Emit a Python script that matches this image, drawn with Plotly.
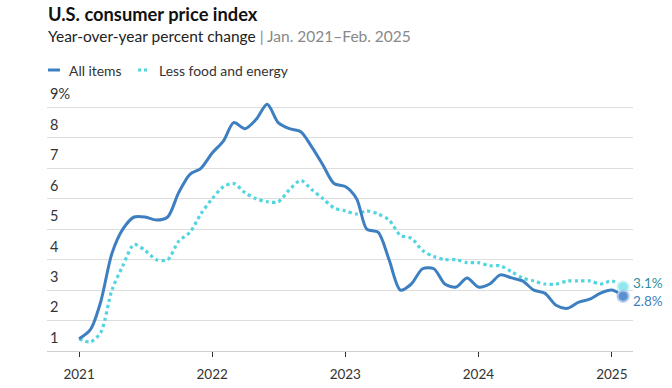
import plotly.graph_objects as go
import pandas as pd

months = pd.date_range("2021-01-01", "2025-02-01", freq="MS").strftime("%Y-%m-%d").tolist()

all_items = [
    1.4, 1.7, 2.6, 4.2, 5.0, 5.4, 5.4, 5.3, 5.4, 6.2, 6.8, 7.0,
    7.5, 7.9, 8.5, 8.3, 8.6, 9.1, 8.5, 8.3, 8.2, 7.7, 7.1, 6.5,
    6.4, 6.0, 5.0, 4.9, 4.0, 3.0, 3.2, 3.7, 3.7, 3.2, 3.1, 3.4,
    3.1, 3.2, 3.5, 3.4, 3.3, 3.0, 2.9, 2.5, 2.4, 2.6, 2.7, 2.9,
    3.0, 2.8,
]
less_food_energy = [
    1.4, 1.3, 1.6, 3.0, 3.8, 4.5, 4.3, 4.0, 4.0, 4.6, 4.9, 5.5,
    6.0, 6.4, 6.5, 6.2, 6.0, 5.9, 5.9, 6.3, 6.6, 6.3, 6.0, 5.7,
    5.6, 5.5, 5.6, 5.5, 5.3, 4.8, 4.7, 4.3, 4.1, 4.0, 4.0, 3.9,
    3.9, 3.8, 3.8, 3.6, 3.4, 3.3, 3.2, 3.2, 3.3, 3.3, 3.3, 3.2,
    3.3, 3.1,
]
series_names = ["All items", "Less food and energy"]
y_ticks = [1, 2, 3, 4, 5, 6, 7, 8, 9]
y_tick_text = ["1", "2", "3", "4", "5", "6", "7", "8", "9%"]
x_ticks = ["2021-01-01", "2022-01-01", "2023-01-01", "2024-01-01", "2025-01-01"]
x_tick_text = ["2021", "2022", "2023", "2024", "2025"]

BLUE = "#3d7fc0"
CYAN = "#52d5e0"
FONT = "Lato"

W, H = 672, 388
L, R, T, B = 47, 39, 83, 37
pw, ph = W - L - R, H - T - B


def px(xp):
    return (xp - L) / pw


def py(yp):
    return (H - B - yp) / ph


fig = go.Figure()
fig.add_trace(go.Scatter(
    x=months, y=less_food_energy, mode="lines", name=series_names[1],
    line=dict(color=CYAN, width=3.2, dash="dot", shape="spline", smoothing=0.8),
    showlegend=False, hoverinfo="skip",
))
fig.add_trace(go.Scatter(
    x=months, y=all_items, mode="lines", name=series_names[0],
    line=dict(color=BLUE, width=3, shape="spline", smoothing=0.8),
    showlegend=False, hoverinfo="skip",
))
fig.add_trace(go.Scatter(
    x=[months[-1]], y=[less_food_energy[-1]], mode="markers",
    marker=dict(size=11, color="#8fe6ec", line=dict(color="#c4f2f5", width=2)),
    showlegend=False, hoverinfo="skip",
))
fig.add_trace(go.Scatter(
    x=[months[-1]], y=[all_items[-1]], mode="markers",
    marker=dict(size=11, color="#5a8fd0", line=dict(color="#a9c6ea", width=2)),
    showlegend=False, hoverinfo="skip",
))

fig.add_annotation(x=months[-1], y=less_food_energy[-1], text="3.1%", showarrow=False,
                   xanchor="left", yanchor="middle", xshift=8, yshift=4,
                   font=dict(family=FONT, size=13.5, color="#2d8f9c"))
fig.add_annotation(x=months[-1], y=all_items[-1], text="2.8%", showarrow=False,
                   xanchor="left", yanchor="middle", xshift=8, yshift=-5,
                   font=dict(family=FONT, size=13.5, color=BLUE))

fig.add_annotation(xref="paper", yref="paper", x=px(46), y=py(14), text="<b>U.S. consumer price index</b>",
                   showarrow=False, xanchor="left", yanchor="middle",
                   font=dict(family=FONT, size=18.3, color="#111"))
fig.add_annotation(xref="paper", yref="paper", x=px(46), y=py(36),
                   text="Year-over-year percent change <span style='color:#888'>| Jan. 2021–Feb. 2025</span>",
                   showarrow=False, xanchor="left", yanchor="middle",
                   font=dict(family=FONT, size=15.5, color="#222"))
# legend
fig.add_shape(type="line", xref="paper", yref="paper", x0=px(48), x1=px(60), y0=py(70), y1=py(70),
              line=dict(color=BLUE, width=3))
fig.add_annotation(xref="paper", yref="paper", x=px(67), y=py(70), text=series_names[0],
                   showarrow=False, xanchor="left", yanchor="middle",
                   font=dict(family=FONT, size=13.9, color="#333"))
fig.add_shape(type="line", xref="paper", yref="paper", x0=px(138), x1=px(147), y0=py(70), y1=py(70),
              line=dict(color=CYAN, width=3, dash="dot"))
fig.add_annotation(xref="paper", yref="paper", x=px(157), y=py(70), text=series_names[1],
                   showarrow=False, xanchor="left", yanchor="middle",
                   font=dict(family=FONT, size=13.9, color="#333"))

fig.update_layout(
    width=W, height=H,
    margin=dict(l=L, r=R, t=T, b=B, autoexpand=False),
    plot_bgcolor="white", paper_bgcolor="white",
    font=dict(family=FONT, size=13, color="#333"),
    xaxis=dict(
        type="date", range=["2020-10-05", "2025-02-28"],
        tickvals=x_ticks, ticktext=x_tick_text,
        showgrid=False, showline=True, linecolor="#cfcfcf", linewidth=1,
        ticks="outside", ticklen=5, tickcolor="#333", tickwidth=1,
        ticklabelstandoff=6, zeroline=False,
        tickfont=dict(family=FONT, size=13.5, color="#333"),
    ),
    yaxis=dict(
        range=[1, 9.8], tickvals=y_ticks, ticktext=y_tick_text,
        showgrid=True, gridcolor="#dddddd", gridwidth=1,
        ticks="", ticklabelposition="inside top", ticklabelshift=-3, zeroline=False,
        tickfont=dict(family=FONT, size=14.5, color="#333"),
    ),
)

fig.write_html("out.html", config={"displayModeBar": False},
               post_script="document.body.style.margin='0';")
